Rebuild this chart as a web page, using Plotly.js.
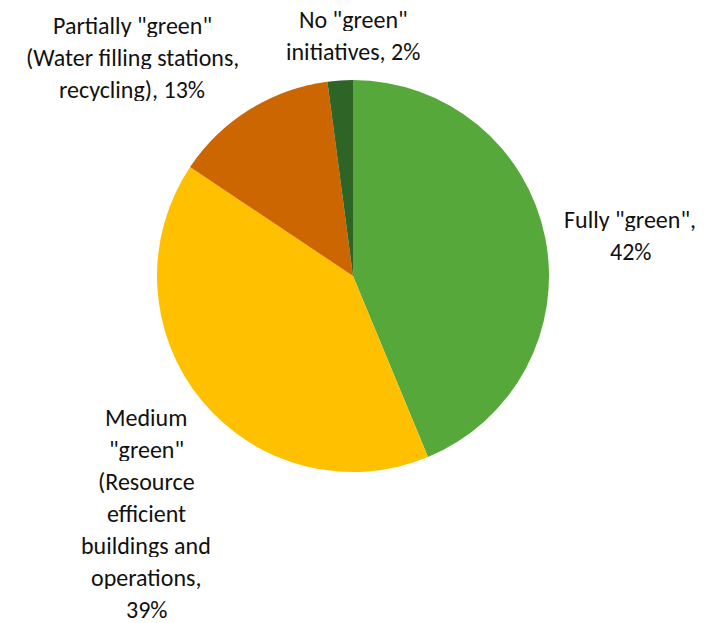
<!DOCTYPE html>
<html>
<head>
<meta charset="utf-8">
<script src="https://cdn.plot.ly/plotly-3.0.1.min.js"></script>
<style>html,body{margin:0;padding:0;background:#fff}#chart{width:708px;height:623px}</style>
</head>
<body>
<div id="chart"></div>
<script>
// Data
var categories = ['Fully "green"', 'Medium "green" (Resource efficient buildings and operations)', 'Partially "green" (Water filling stations, recycling)', 'No "green" initiatives'];
var values = [42, 39, 13, 2];
var labelLines = [
  ['Fully "green",', '42%'],
  ['Medium', '"green"', '(Resource', 'efficient', 'buildings and', 'operations,', '39%'],
  ['Partially "green"', '(Water filling stations,', 'recycling), 13%'],
  ['No "green"', 'initiatives, 2%']
];
var colors = ['#56A83A', '#FFC000', '#CC6600', '#2E6426'];

// Label placement (pixels: center x, first line center y)
var W = 708, H = 623;
var labelPos = [[630, 219], [146, 417], [132, 25], [353, 19]];
var lineStep = 32;
var fontFamily = 'Carlito, Lato, "Liberation Sans", sans-serif';

var annotations = [];
labelLines.forEach(function (lines, i) {
  lines.forEach(function (ln, j) {
    annotations.push({
      xref: 'paper', yref: 'paper',
      x: labelPos[i][0] / W,
      y: 1 - (labelPos[i][1] + j * lineStep) / H,
      xanchor: 'center', yanchor: 'middle',
      text: ln, showarrow: false, borderpad: 0, height: 24,
      font: {family: fontFamily, size: 24, color: '#111111'}
    });
  });
});

var cx = 353, cy = 276, r = 196;
var trace = {
  type: 'pie',
  labels: categories,
  values: values,
  sort: false,
  direction: 'clockwise',
  rotation: 0,
  textinfo: 'none',
  hoverinfo: 'label+value',
  marker: {colors: colors, line: {color: '#ffffff', width: 0}},
  domain: {x: [(cx - r) / W, (cx + r) / W], y: [1 - (cy + r) / H, 1 - (cy - r) / H]}
};

Plotly.newPlot('chart', [trace], {
  width: W, height: H,
  margin: {l: 0, r: 0, t: 0, b: 0},
  showlegend: false,
  paper_bgcolor: '#ffffff',
  annotations: annotations
}, {displayModeBar: false});
</script>
</body>
</html>
